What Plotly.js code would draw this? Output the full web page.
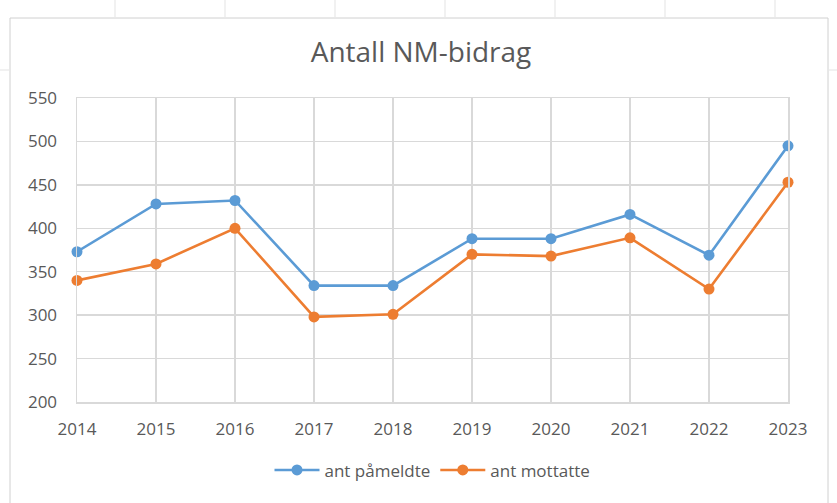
<!DOCTYPE html>
<html>
<head>
<meta charset="utf-8">
<script src="https://cdn.plot.ly/plotly-3.0.1.min.js"></script>
<style>
html,body{margin:0;padding:0;background:#fff;}
#chart{width:837px;height:503px;}
</style>
</head>
<body>
<div id="chart"></div>
<script>
const years = [2014, 2015, 2016, 2017, 2018, 2019, 2020, 2021, 2022, 2023];
const pameldte = [373, 428, 432, 334, 334, 388, 388, 416, 369, 495];
const mottatte = [340, 359, 400, 298, 301, 370, 368, 389, 330, 453];
const seriesNames = ["ant påmeldte", "ant mottatte"];
const chartTitle = "Antall NM-bidrag";

const font = '"Open Sans", "Noto Sans", sans-serif';
const textColor = '#595959';
const gridColor = '#d9d9d9';

const traces = [
  {x: years, y: pameldte, name: seriesNames[0], type: 'scatter', mode: 'lines+markers', cliponaxis: false,
   line: {color: '#5B9BD5', width: 2.6}, marker: {color: '#5B9BD5', size: 11}},
  {x: years, y: mottatte, name: seriesNames[1], type: 'scatter', mode: 'lines+markers', cliponaxis: false,
   line: {color: '#ED7D31', width: 2.6}, marker: {color: '#ED7D31', size: 11}}
];

// frame / sheet grid helpers (paper coords relative to plot area: l=77, plot width 711, t=98, plot height 304)
const pw = 711, ph = 304, L = 77, T = 98;
const px = v => (v - L) / pw;
const py = v => (T + ph - v) / ph;
const shapes = [
  {type: 'rect', xref: 'paper', yref: 'paper', x0: px(10), x1: px(828), y0: py(520), y1: py(18),
   line: {color: '#d0d0d0', width: 1}, fillcolor: 'rgba(0,0,0,0)', layer: 'below'}
];
[115, 225, 335, 445, 555, 665, 775].forEach(v => shapes.push(
  {type: 'line', xref: 'paper', yref: 'paper', x0: px(v), x1: px(v), y0: py(0), y1: py(17),
   line: {color: '#e3e3e3', width: 1}, layer: 'below'}));
[70].forEach(v => {
  shapes.push({type: 'line', xref: 'paper', yref: 'paper', x0: px(0), x1: px(9), y0: py(v), y1: py(v),
   line: {color: '#e3e3e3', width: 1}, layer: 'below'});
  shapes.push({type: 'line', xref: 'paper', yref: 'paper', x0: px(829), x1: px(837), y0: py(v), y1: py(v),
   line: {color: '#e3e3e3', width: 1}, layer: 'below'});
});

const layout = {
  width: 837, height: 503,
  margin: {l: 77, r: 49, t: 98, b: 101},
  paper_bgcolor: '#ffffff', plot_bgcolor: '#ffffff',
  font: {family: font, color: textColor, size: 16},
  title: {text: chartTitle, x: 0.503, xanchor: 'center', y: 0.897, yanchor: 'middle',
          font: {family: font, size: 28, color: textColor}},
  xaxis: {range: [2014, 2023], tickvals: years, ticktext: years.map(String),
          showgrid: true, gridcolor: gridColor, gridwidth: 1.5, zeroline: false,
          showline: true, linecolor: gridColor, linewidth: 1.5, mirror: true,
          ticks: 'outside', ticklen: 11, tickcolor: 'rgba(0,0,0,0)',
          tickfont: {family: font, size: 17, color: textColor}, fixedrange: true},
  yaxis: {range: [200, 550], dtick: 50, tick0: 200,
          showgrid: true, gridcolor: gridColor, gridwidth: 1.5, zeroline: false,
          showline: true, linecolor: gridColor, linewidth: 1.5, mirror: true,
          ticks: 'outside', ticklen: 15, tickcolor: 'rgba(0,0,0,0)',
          tickfont: {family: font, size: 17, color: textColor}, fixedrange: true},
  showlegend: true,
  legend: {orientation: 'h', x: 0.5, xanchor: 'center', y: -0.225, yanchor: 'middle',
           font: {family: font, size: 17, color: textColor}, itemwidth: 45},
  shapes: shapes
};

Plotly.newPlot('chart', traces, layout, {displayModeBar: false, staticPlot: true});
</script>
</body>
</html>
